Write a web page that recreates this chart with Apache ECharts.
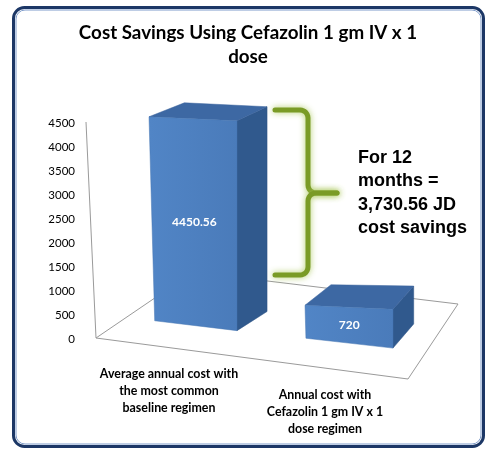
<!DOCTYPE html>
<html>
<head>
<meta charset="utf-8">
<script src="https://cdn.jsdelivr.net/npm/echarts@6/dist/echarts.min.js"></script>
<style>
  html, body { margin: 0; padding: 0; background: #fff; }
  #chart { width: 485px; height: 453px; }
</style>
</head>
<body>
<div id="chart"></div>
<script>
// Two regimens and their yearly cost (JD)
const categories = [
  'Average annual cost with\nthe most common\nbaseline regimen',
  'Annual cost with\nCefazolin 1 gm IV x 1\ndose regimen'
];
const annualCost = [4450.56, 720];
const costLabels = ['4450.56', '720'];

// Value axis ticks
const yMin = 0;
const yMax = 4500;
const yStep = 500;

const savings = annualCost[0] - annualCost[1];
const savingsText = savings.toLocaleString('en-US', { minimumFractionDigits: 2, maximumFractionDigits: 2 });

const FONT = 'Lato, "Open Sans", sans-serif';

// Look of the pseudo-3D boxes
const FACE_W = 88;          // front face width
const FACE_SHIFT = 24;      // front face centre offset from the category centre
const FLOOR_SLOPE = 0.112;  // floor tilt (px down per px right)
const FLOOR_BACK = 18;      // how far behind the zero line the boxes stand
const X_REF = 151;
const TOP_SLOPE = 0.046;
const LEAN = 0.028;

function depth(x, y) {
  const dx = 30 - (x - 238) * 0.06;
  const dy = -14 - (y - 118) * 0.024 - Math.max(0, x - 238) * 0.03;
  return [dx, dy];
}
function back(p) {
  const d = depth(p[0], p[1]);
  return [p[0] + d[0], p[1] + d[1]];
}

function renderBox(params, api) {
  const i = api.value(0);
  const v = api.value(1);
  const base = api.coord([i, 0]);
  const top = api.coord([i, v]);
  const h = base[1] - top[1];
  const xc = base[0] + FACE_SHIFT;
  const xl = xc - FACE_W / 2;
  const xr = xc + FACE_W / 2;
  const yBL = base[1] - FLOOR_BACK + FLOOR_SLOPE * (xl - X_REF);
  const yBR = yBL + FLOOR_SLOPE * FACE_W;
  const hL = h * 0.955;
  const TL = [xl, yBL - hL];
  const TR = [xr, TL[1] + TOP_SLOPE * FACE_W];
  const BR = [xr, yBR];
  const BL = [xl + LEAN * hL, yBL];

  const front = [TL, TR, BR, BL];
  const topFace = [TL, TR, back(TR), back(TL)];
  const side = [TR, BR, back(BR), back(TR)];
  const cx = (TL[0] + TR[0] + BR[0] + BL[0]) / 4;
  const cy = (TL[1] + TR[1] + BR[1] + BL[1]) / 4;

  return {
    type: 'group',
    children: [
      { type: 'polygon', shape: { points: side },
        style: { fill: '#30598D', stroke: '#2C5285', lineWidth: 0.5 } },
      { type: 'polygon', shape: { points: topFace },
        style: { fill: '#3D68A3', stroke: '#3A639C', lineWidth: 0.5 } },
      { type: 'polygon', shape: { points: front },
        style: {
          fill: new echarts.graphic.LinearGradient(0, 0, 1, 0, [
            { offset: 0, color: '#5185C6' },
            { offset: 1, color: '#4A7BBA' }
          ]),
          stroke: '#4676B3', lineWidth: 0.5
        } },
      { type: 'text', x: cx, y: cy,
        style: { text: costLabels[i], fill: '#fff', font: 'bold 12px ' + FONT,
                 align: 'center', verticalAlign: 'middle' } }
    ]
  };
}

// Curly brace outline: quarter-circle corners built from points
function arc(cx, cy, r, a0, a1, n) {
  const pts = [];
  for (let k = 0; k <= n; k++) {
    const a = a0 + (a1 - a0) * k / n;
    pts.push([cx + r * Math.cos(a), cy + r * Math.sin(a)]);
  }
  return pts;
}
const R = 8, BX = 308, BT = 110, BM = 193, BB = 275, BL0 = 275, TIP = 337;
const braceUpper = [[BL0, BT]]
  .concat(arc(BX - R, BT + R, R, -Math.PI / 2, 0, 6))
  .concat(arc(BX + R, BM - R, R, Math.PI, Math.PI / 2, 6))
  .concat([[TIP, BM]]);
const braceLower = [[BL0, BB]]
  .concat(arc(BX - R, BB - R, R, Math.PI / 2, 0, 6))
  .concat(arc(BX + R, BM + R, R, Math.PI, Math.PI * 1.5, 6))
  .concat([[TIP, BM]]);
const braceStyle = { fill: 'none', stroke: '#7A9B26', lineWidth: 5, lineCap: 'round', lineJoin: 'round',
                     shadowBlur: 6, shadowColor: 'rgba(170,200,90,0.9)' };

const chart = echarts.init(document.getElementById('chart'), null, { renderer: 'canvas' });

chart.setOption({
  backgroundColor: '#fff',
  animation: false,
  title: {
    text: 'Cost Savings Using Cefazolin 1 gm IV x 1\ndose',
    left: 243,
    top: 16,
    textAlign: 'center',
    textStyle: { fontFamily: FONT, fontWeight: 'bold', fontSize: 18.8, lineHeight: 24, color: '#000' }
  },
  grid: { left: 91, width: 312, top: 123, bottom: 114 },
  xAxis: {
    type: 'category',
    data: [
      { value: categories[0] },
      { value: categories[1], textStyle: { padding: [21, 0, 0, 0] } }
    ],
    axisLine: { show: false },
    axisTick: { show: false },
    axisLabel: {
      margin: 26, interval: 0,
      fontFamily: FONT, fontWeight: 'bold', fontSize: 12.4, lineHeight: 17, color: '#000'
    }
  },
  yAxis: {
    type: 'value',
    min: yMin, max: yMax, interval: yStep,
    axisLine: { show: false },
    axisTick: { show: false },
    splitLine: { show: false },
    axisLabel: { margin: 16, fontFamily: FONT, fontSize: 11.5, color: '#000',
                 formatter: (v) => String(v) }
  },
  graphic: [
    // chart frame
    { type: 'rect', shape: { x: 13.5, y: 7.5, width: 470, height: 439, r: 11 },
      style: { fill: 'none', stroke: '#1C3766', lineWidth: 3 } },
    { type: 'rect', shape: { x: 16, y: 10, width: 465, height: 434, r: 9 },
      style: { fill: 'none', stroke: '#7F9CCB', lineWidth: 1 } },
    // side wall edge and floor outline
    { type: 'polyline', shape: { points: [[86, 122], [96, 338]] },
      style: { stroke: '#9A9A9A', lineWidth: 1 } },
    { type: 'polyline', shape: { points: [[193, 272], [96, 338], [408, 379], [458, 304], [193, 272]] },
      style: { stroke: '#9A9A9A', lineWidth: 1, fill: 'none' } },
    // savings brace
    { type: 'polyline', z: 5, shape: { points: braceUpper }, style: braceStyle },
    { type: 'polyline', z: 5, shape: { points: braceLower }, style: braceStyle },
    { type: 'text', z: 5, x: 358, y: 146,
      style: { text: 'For 12\nmonths =\n' + savingsText + ' JD\ncost savings',
               font: 'bold 18px "Liberation Sans", Arial, sans-serif', lineHeight: 23.5, fill: '#000' } }
  ],
  series: [{
    type: 'custom',
    renderItem: renderBox,
    z: 3,
    encode: { x: 0, y: 1 },
    data: annualCost.map((v, i) => [i, v])
  }]
});
</script>
</body>
</html>
